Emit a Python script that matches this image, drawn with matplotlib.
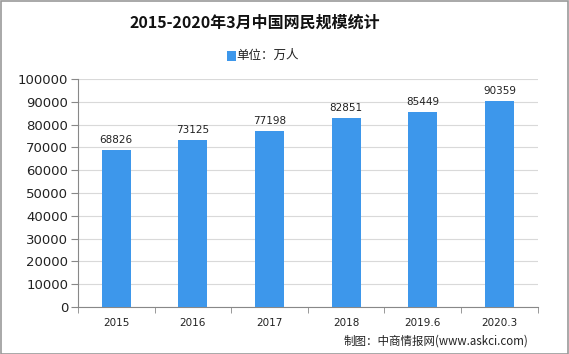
import matplotlib
matplotlib.use("Agg")
import matplotlib.pyplot as plt
from matplotlib.patches import Rectangle
import numpy as np

plt.rcParams['font.family'] = ['Noto Sans CJK SC', 'DejaVu Sans']

categories = ["2015", "2016", "2017", "2018", "2019.6", "2020.3"]
values = [68826, 73125, 77198, 82851, 85449, 90359]
yticks = [0, 10000, 20000, 30000, 40000, 50000, 60000, 70000, 80000, 90000, 100000]

bar_color = "#3d97eb"
fig = plt.figure(figsize=(5.69, 3.54), dpi=100)
fig.patch.set_facecolor("white")
ax = fig.add_axes([0.137, 0.133, 0.808, 0.644])

x = np.arange(len(categories))
ax.bar(x, values, width=0.38, color=bar_color, zorder=3)
for xi, v in zip(x, values):
    ax.text(xi, v + 2300, str(v), ha="center", va="bottom", fontsize=7.5,
            family=["DejaVu Sans"], color="#222222")

ax.set_xlim(-0.5, len(categories) - 0.5)
ax.set_ylim(0, 100000)
ax.set_yticks(yticks)
ax.set_yticklabels([str(t) for t in yticks], fontsize=9.5, family=["DejaVu Sans"], color="#222222")
ax.yaxis.grid(True, color="#d9d9d9", linewidth=0.8, zorder=0)
ax.set_xticks(x)
ax.set_xticklabels(categories, fontsize=7.5, family=["DejaVu Sans"], color="#222222")
ax.tick_params(axis="x", length=0, pad=8)
ax.set_xticks(np.arange(-0.5, len(categories), 1.0), minor=True)
ax.tick_params(axis="x", which="minor", length=4, color="#888888")
ax.tick_params(axis="y", length=5, color="#888888", pad=2)
for s in ["top", "right"]:
    ax.spines[s].set_visible(False)
ax.spines["left"].set_color("#888888")
ax.spines["bottom"].set_color("#888888")

fig.text(0.447, 0.937, "2015-2020年3月中国网民规模统计", ha="center", va="center",
         fontsize=11.5, fontweight="bold", color="#111111")
# legend
fig.patches.append(Rectangle((0.399, 0.829), 0.015, 0.028, transform=fig.transFigure,
                             facecolor=bar_color, edgecolor="none"))
fig.text(0.416, 0.843, "单位：万人", ha="left", va="center", fontsize=9, color="#222222")

fig.text(0.928, 0.037, "制图：中商情报网(www.askci.com)", ha="right", va="center",
         fontsize=8.3, color="#222222")

fig.patches.append(Rectangle((0.001, 0.001), 0.997, 0.997, transform=fig.transFigure,
                             facecolor="none", edgecolor="#999999", linewidth=1.2))

fig.savefig("out.png", dpi=100)
